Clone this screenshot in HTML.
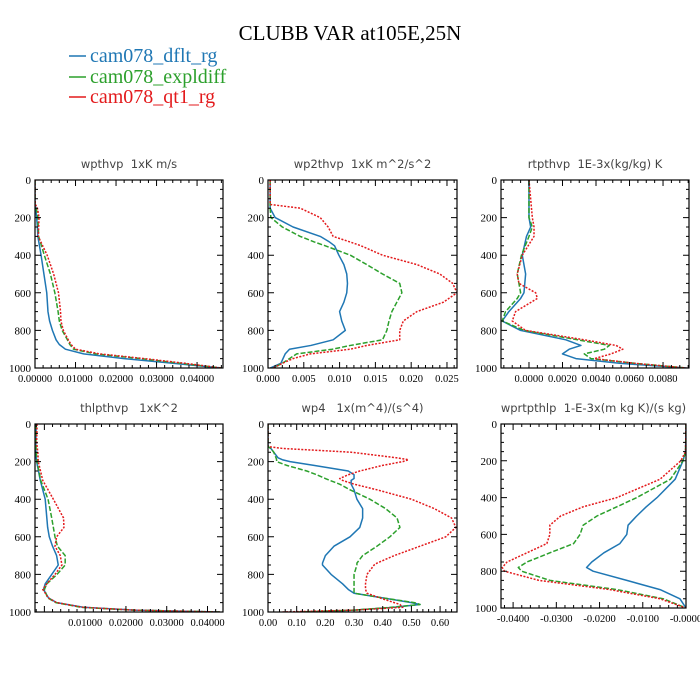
<!DOCTYPE html>
<html><head><meta charset="utf-8"><style>
html,body{margin:0;padding:0;background:#fff;}
svg{display:block;}
.pt{white-space:pre;}
</style></head><body>
<svg id="chart" width="700" height="700" viewBox="0 0 700 700" xmlns="http://www.w3.org/2000/svg">
<text x="350" y="40" text-anchor="middle" font-family="Liberation Serif, serif" font-size="21" fill="#000">CLUBB VAR at105E,25N</text>
<g font-family="Liberation Serif, serif" font-size="20">
<g><line x1="69" y1="56" x2="86" y2="56" stroke="#1f77b4" stroke-width="1.5"/><text x="90" y="62" fill="#1f77b4">cam078_dflt_rg</text></g>
<g><line x1="69" y1="77" x2="86" y2="77" stroke="#2ca02c" stroke-width="1.5"/><text x="90" y="83" fill="#2ca02c">cam078_expldiff</text></g>
<g><line x1="69" y1="97" x2="86" y2="97" stroke="#e31a1c" stroke-width="1.5"/><text x="90" y="103" fill="#e31a1c">cam078_qt1_rg</text></g>
</g>
</svg>
<script>
const p1Levels=[0,100,130,150,200,250,300,400,500,600,700,750,800,850,875,900,925,950,975,1000];
const p1Blue=[0,0,0,0.2,0.4,0.6,0.7,1.5,2.2,2.9,3.2,3.6,4.3,5.2,6.0,7.5,12,22,34,46];
const p1Green=[0,0,0,0.3,0.7,0.8,0.9,2.3,3.8,4.9,5.7,6.0,6.7,8,8.6,9.5,15,26,36,46];
const p1Red=[0,0,0.1,0.6,1.0,0.9,0.8,3.0,4.6,5.8,6.3,6.4,7.0,8.2,8.9,10,16,27,37,46];

const p2Levels=[0,130,150,200,250,300,330,350,400,450,500,550,600,650,700,750,800,850,880,900,925,950,975,1000];
const p2Blue=[0.3,0.3,0.3,1.0,3.5,7.3,8.6,9.3,9.9,10.6,11.0,11.1,11.0,10.6,10.0,10.3,10.8,9.1,6.0,3.0,2.4,2.1,1.8,0.3];
const p2Green=[0.3,0.3,0.3,0.4,2.0,4.5,6.5,8.0,11.5,13.8,16.0,18.4,18.7,18.0,17.3,16.9,16.6,16.0,11.5,9.0,4.0,3.0,2.0,0.7];
const p2Red=[0.3,0.3,4.5,7.3,8.4,9.1,11.5,13.0,16.0,20.8,24.0,25.8,26.4,24.5,20.8,18.9,18.4,18.4,13.8,11.5,5.9,3.5,2.0,0.7];

const p3Levels=[0,200,250,300,400,500,550,600,630,700,750,800,850,880,900,925,950,975,1000];
const p3Blue=[0,0,0.1,-0.15,-0.4,-0.2,-0.25,-0.3,-0.5,-1.2,-1.6,-0.5,2.2,3.1,2.4,2.0,2.8,5.4,9.4];
const p3Green=[0,0,0.2,0,-0.45,-0.7,-0.6,-0.5,-0.7,-1.4,-1.6,-0.3,2.9,4.8,4.5,3.3,3.7,6.3,9.4];
const p3Red=[0,0.2,0.3,0.3,-0.4,-0.7,-0.6,0.4,0.5,-0.8,-1.0,-0.2,3.3,5.2,5.6,4.9,3.9,6.3,9.4];

const p4Levels=[0,100,150,200,300,400,500,550,600,650,700,750,800,850,880,925,950,975,990,1000];
const p4Blue=[-2.0,-2.1,-2.1,-1.9,-1.0,0.2,0.6,0.8,1.2,2.0,3.0,3.4,1.8,0.2,-0.2,1.0,3.0,9.5,22,43];
const p4Green=[-2.0,-2.1,-2.0,-1.8,-0.9,0.9,1.8,2.2,2.6,3.2,5.1,5.1,3.1,0.6,0.0,0.8,2.8,9.0,22,43];
const p4Red=[-1.8,-1.9,-1.6,-1.5,-0.4,2.2,4.7,4.8,3.0,2.6,3.9,4.3,2.6,0.6,-0.4,1.0,3.0,9.5,22,43];

const p5Levels=[0,120,130,150,180,190,200,220,250,270,290,300,320,350,400,450,500,550,600,650,700,740,750,800,850,880,900,925,950,960,975,990,1000];
const p5Blue=[0,0,0.01,0.02,0.035,0.05,0.077,0.16,0.28,0.30,0.30,0.29,0.29,0.30,0.31,0.33,0.33,0.32,0.286,0.23,0.20,0.19,0.19,0.22,0.26,0.28,0.30,0.40,0.50,0.53,0.44,0.30,0.15];
const p5Green=[0,0,0.01,0.02,0.028,0.03,0.03,0.065,0.135,0.17,0.20,0.216,0.25,0.286,0.355,0.41,0.45,0.46,0.425,0.38,0.33,0.31,0.31,0.30,0.30,0.30,0.30,0.40,0.51,0.53,0.43,0.30,0.10];
const p5Red=[0,0,0.05,0.29,0.45,0.49,0.47,0.40,0.32,0.28,0.25,0.26,0.30,0.38,0.50,0.58,0.64,0.655,0.62,0.53,0.44,0.38,0.37,0.345,0.34,0.34,0.345,0.39,0.44,0.46,0.47,0.30,0.05];

const p6Levels=[0,150,200,300,400,450,500,550,600,650,700,750,780,800,850,900,950,1000];
const p6Blue=[0,-0.1,-0.7,-2.5,-6.7,-9.2,-11.4,-13.4,-13.7,-15.3,-19.0,-21.8,-23.0,-21.5,-13.7,-6.0,-1.4,0];
const p6Green=[0,-0.1,-0.7,-3.6,-11.4,-16.0,-20.6,-23.8,-24.5,-26.0,-31.5,-36.8,-38.8,-38.0,-31.5,-16.0,-5.2,0];
const p6Red=[0,-0.1,-1.2,-6.0,-16.0,-23.8,-29.0,-31.5,-31.5,-32.2,-36.8,-41.4,-42.5,-42.0,-34.0,-17.6,-6.0,0];

const p1Ticks=[0,0.01,0.02,0.03,0.04];
const p2Ticks=[0,0.005,0.01,0.015,0.02,0.025];
const p3Ticks=[0,0.002,0.004,0.006,0.008];
const p4Ticks=[0.01,0.02,0.03,0.04];
const p5Ticks=[0,0.1,0.2,0.3,0.4,0.5,0.6];
const p6Ticks=[-0.04,-0.03,-0.02,-0.01,0];
const yTicks=[0,200,400,600,800,1000];

const panels=[
 {name:'wpthvp',title:'wpthvp  1xK m/s',L:35,R:223,T:180,B:368,xmin:0,xmax:0.0464,scale:1e-3,lv:p1Levels,s:[p1Blue,p1Green,p1Red],ticks:p1Ticks,minor:0.002,dec:5},
 {name:'wp2thvp',title:'wp2thvp  1xK m^2/s^2',L:268,R:457,T:180,B:368,xmin:0,xmax:0.0264,scale:1e-3,lv:p2Levels,s:[p2Blue,p2Green,p2Red],ticks:p2Ticks,minor:0.001,dec:3},
 {name:'rtpthvp',title:'rtpthvp  1E-3x(kg/kg) K',L:501,R:689,T:180,B:368,xmin:-0.00167,xmax:0.00955,scale:1e-3,lv:p3Levels,s:[p3Blue,p3Green,p3Red],ticks:p3Ticks,minor:0.0005,dec:4},
 {name:'thlpthvp',title:'thlpthvp   1xK^2',L:35,R:223,T:424,B:612,xmin:-0.0023,xmax:0.0438,scale:1e-3,lv:p4Levels,s:[p4Blue,p4Green,p4Red],ticks:p4Ticks,minor:0.002,dec:5},
 {name:'wp4',title:'wp4   1x(m^4)/(s^4)',L:268,R:457,T:424,B:612,xmin:0,xmax:0.659,scale:1,lv:p5Levels,s:[p5Blue,p5Green,p5Red],ticks:p5Ticks,minor:0.02,dec:2},
 {name:'wprtpthlp',title:'wprtpthlp  1-E-3x(m kg K)/(s kg)',L:501,R:686,T:424,B:608,xmin:-0.0428,xmax:0,scale:1e-3,lv:p6Levels,s:[p6Blue,p6Green,p6Red],ticks:p6Ticks,minor:0.002,dec:4}
];
const colors=['#1f77b4','#2ca02c','#e31a1c'];
const dashes=['none','5,2','2,1.5'];
const snames=['dflt','expldiff','qt1'];
const NS='http://www.w3.org/2000/svg';
const svg=document.getElementById('chart');
function mk(tag,attrs,parent){const e=document.createElementNS(NS,tag);for(const k in attrs)e.setAttribute(k,attrs[k]);parent.appendChild(e);return e;}

panels.forEach(p=>{
 const g=mk('g',{},svg);
 
 
 const xs=v=>p.L+(v-p.xmin)/(p.xmax-p.xmin)*(p.R-p.L);
 const ys=v=>p.T+v/1000*(p.B-p.T);
 const t=mk('text',{x:(p.L+p.R)/2,y:p.T-12,'text-anchor':'middle','font-family':'DejaVu Sans, sans-serif','font-size':11.5,fill:'#444','class':'pt'},g);
 t.textContent=p.title;
 
 
 const cid='clip-'+p.name;
 const cp=mk('clipPath',{id:cid},g);
 mk('rect',{x:p.L,y:p.T,width:p.R-p.L,height:p.B-p.T},cp);
 p.s.forEach((arr,i)=>{
  const d=arr.map((v,j)=>(j?'L':'M')+xs(v*p.scale).toFixed(2)+','+ys(p.lv[j]).toFixed(2)).join('');
  const path=mk('path',{d:d,fill:'none',stroke:colors[i],'stroke-width':1.5,'stroke-dasharray':dashes[i],'stroke-linejoin':'round','clip-path':'url(#'+cid+')'},g);
  
  
 });
 const fr=mk('rect',{x:p.L,y:p.T,width:p.R-p.L,height:p.B-p.T,fill:'none',stroke:'#000','stroke-width':1.2},g);
 
 
 let td='';
 for(let v=0;v<=1000;v+=50){const y=ys(v);const len=(v%200===0)?6:3;td+=`M${p.L},${y}h${len}M${p.R},${y}h${-len}`;}
 const start=Math.ceil(p.xmin/p.minor-1e-6);
 const step=p.ticks[1]-p.ticks[0];
 for(let k=start;k*p.minor<=p.xmax+1e-9;k++){const v=k*p.minor;const x=xs(v);const major=Math.abs(v/step-Math.round(v/step))<1e-6;const len=major?6:3;td+=`M${x},${p.B}v${-len}M${x},${p.T}v${len}`;}
 const tk=mk('path',{d:td,stroke:'#000','stroke-width':1,fill:'none'},g);
 
 
 yTicks.forEach(v=>{
  const l=mk('text',{x:p.L-4,y:ys(v)+4,'text-anchor':'end','font-family':'Liberation Serif, serif','font-size':11,fill:'#000'},g);
  l.textContent=String(v);
  
  
 });
 p.ticks.forEach(v=>{
  let s=v.toFixed(p.dec); if(p.name==='wprtpthlp'&&v===0)s='-0.0000';
  const l=mk('text',{x:xs(v),y:p.B+14,'text-anchor':'middle','font-family':'Liberation Serif, serif','font-size':10.5,fill:'#000'},g);
  l.textContent=s;
  
  
 });
});
</script>
</body></html>
